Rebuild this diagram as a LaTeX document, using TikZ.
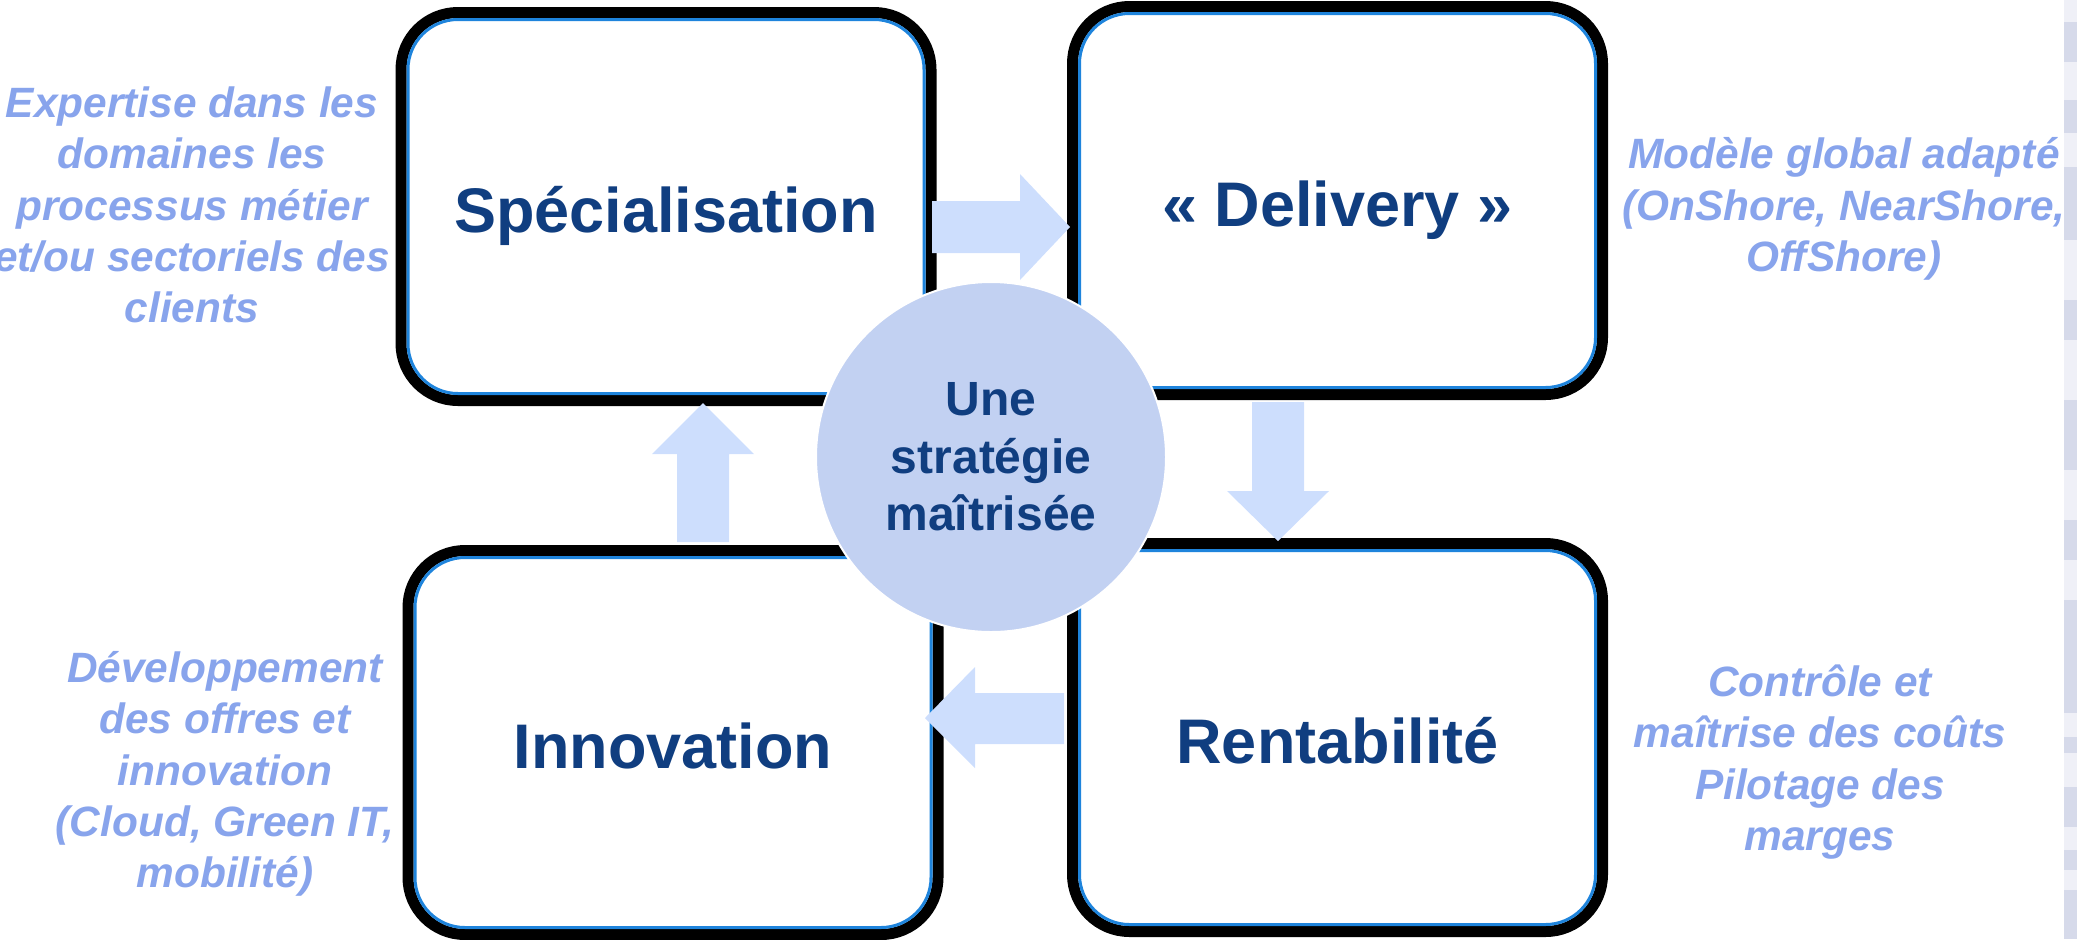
\documentclass[tikz,border=0pt]{standalone}
\usepackage{fontspec}
\setmainfont{Liberation Sans}
\usepackage{tikz}
\definecolor{titleblue}{RGB}{16,62,128}
\definecolor{noteblue}{RGB}{136,164,236}
\definecolor{arrowblue}{RGB}{205,222,253}
\definecolor{hubblue}{RGB}{194,209,242}
\definecolor{rimblue}{RGB}{30,132,220}
\definecolor{stripgray}{RGB}{214,218,234}
% thin blue line just inside the black frame of a stage
\newcommand*{\Rim}[1]{\draw[rimblue, line width=1.5pt, rounded corners=25pt]
  ([shift={(7,7)}]#1.north west) rectangle ([shift={(-7,-7)}]#1.south east);}

\begin{document}
\begin{tikzpicture}[x=0.5pt,y=-0.5pt,
    stage/.style={draw=black, line width=5.5pt, rounded corners=28.5pt, fill=white,
      outer sep=0pt, inner sep=0pt, minimum width=265pt, minimum height=194pt,
      text height=26pt, text depth=0pt,
      text=titleblue, font=\fontsize{31.5}{38}\selectfont\bfseries},
    note/.style={text=noteblue, align=center,
      font=\fontsize{21.2}{25.6}\selectfont\bfseries\itshape},
    flow/.style={fill=arrowblue}]
  \useasboundingbox (0,0) rectangle (2077,939);
  \clip (0,0) rectangle (2077,939);

  % faint strip along the right edge
  \fill[stripgray!40] (2064,0) rectangle (2077,939);
  \foreach \top/\bot in {22/62,100/133,167/240,300/340,400/470,520/560,
                         600/713,737/753,787/827,850/870,890/939}
    \fill[stripgray] (2064,\top) rectangle (2077,\bot);

  % the four stages
  \node[stage] (spec) at (666,206.5) {Spécialisation};
  \node[stage] (deliv) at (1337.5,200.5) {« Delivery »};
  \node[stage, minimum height=192pt] (innov) at (673,742.5) {Innovation};
  \node[stage] (rent) at (1337.5,737.5) {Rentabilité};
  \Rim{spec} \Rim{deliv} \Rim{innov} \Rim{rent}

  % block arrows between the stages
  \fill[flow] (932,201) -- (1020,201) -- (1020,174) -- (1070,227)
    -- (1020,280) -- (1020,253) -- (932,253) -- cycle;
  \fill[flow] (1252,402) -- (1252,491) -- (1227,491) -- (1278,541)
    -- (1329,491) -- (1304,491) -- (1304,402) -- cycle;
  \fill[flow] (1064,693) -- (975,693) -- (975,667) -- (925,718)
    -- (975,768) -- (975,744) -- (1064,744) -- cycle;
  \fill[flow] (677,542) -- (677,454) -- (652,454) -- (703,403)
    -- (754,454) -- (729,454) -- (729,542) -- cycle;

  % centre
  \node[circle, fill=hubblue, draw=white, line width=1pt, minimum size=175pt,
    inner sep=0pt, text=titleblue, align=center,
    font=\fontsize{24}{28.8}\selectfont\bfseries] (hub) at (991,457)
    {Une\\stratégie\\maîtrisée};

  % side notes
  \node[note] (specnote) at (192,205) {Expertise dans les\\domaines les\\processus métier\\et/ou sectoriels des\\clients};
  \node[note] (delivnote) at (1844,209) {Modèle global adapté\\(OnShore, NearShore,\\OffShore)};
  \node[note] (innovnote) at (225,774) {Développement\\des offres et\\innovation\\(Cloud, Green IT,\\mobilité)};
  \node[note] (rentnote) at (1820,762) {Contrôle et\\maîtrise des coûts\\Pilotage des\\marges};
\end{tikzpicture}
\end{document}
